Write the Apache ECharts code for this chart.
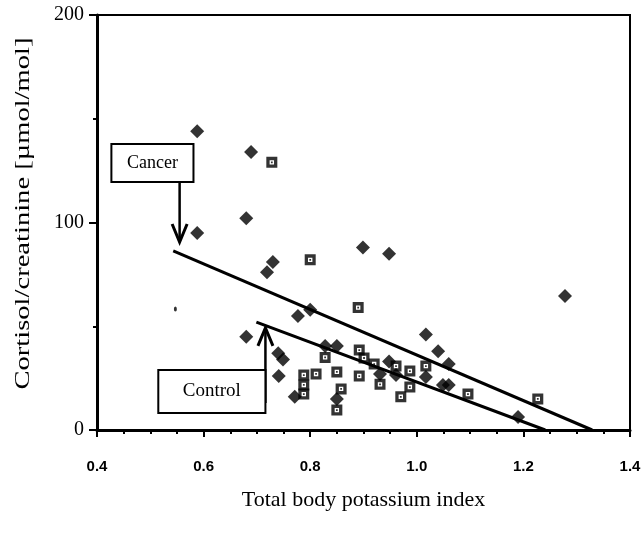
<!DOCTYPE html>
<html>
<head>
<meta charset="utf-8">
<script src="https://cdn.jsdelivr.net/npm/echarts@6/dist/echarts.min.js"></script>
<style>
html,body{margin:0;padding:0;background:#fff;}
#chart{width:642px;height:534px;}
</style>
</head>
<body>
<div id="chart"></div>
<script>
// ---- Data ----
var cancerX = [0.588,0.689,0.680,0.588,0.899,0.948,0.730,0.719,0.800,0.777,0.680,0.740,0.749,0.741,0.771,0.828,0.850,0.850,0.931,0.948,0.961,1.017,1.040,1.060,1.017,1.049,1.060,1.190,1.278];
var cancerY = [144,134,102,95,88,85,81,76,58,55,45,37,34,26,16,40.5,40.5,15,27,33,26.5,46,38,31.8,25.5,21.7,21.7,6.3,64.6];
var controlX = [0.728,0.800,0.890,0.788,0.788,0.788,0.811,0.828,0.850,0.858,0.850,0.892,0.901,0.920,0.892,0.931,0.961,0.987,0.987,0.970,1.017,1.096,1.227];
var controlY = [129,82,59,26.5,21.7,17.3,27,35,28,19.8,9.6,38.5,34.7,31.8,26,22,30.8,28.4,20.7,16,30.8,17.3,15];
var strayX = [0.547];
var strayY = [58.3];
// regression line end points
var cancerLineX = [0.543,1.329];
var cancerLineY = [86.3,0];
var controlLineX = [0.699,1.241];
var controlLineY = [52,0];
// axes
var xTicks = [0.4,0.6,0.8,1.0,1.2,1.4];
var yTicks = [0,100,200];
var xTitle = 'Total body potassium index';
var yTitle = 'Cortisol/creatinine [\u00b5mol/mol]';
// annotation labels (data coordinates)
var cancerBox = [0.427,137.8,0.581,119.5];
var cancerArrow = [0.555,119.5,90.6];
var controlBox = [0.515,28.9,0.716,8.2];
var controlArrow = [0.716,13,49.2];

function zip(a,b){return a.map(function(v,i){return [v,b[i]];});}

var squareSym = 'path://M0,0H10V10H0Z M3,3V7H7V3Z M4.2,4.2H5.8V5.8H4.2Z';

var chart = echarts.init(document.getElementById('chart'), null, {renderer:'canvas'});
var serif = '"Liberation Serif","Times New Roman",serif';
var sans = '"Liberation Sans",Arial,sans-serif';

chart.setOption({
  animation:false,
  backgroundColor:'#fff',
  grid:{left:97,right:12,top:15,bottom:104,containLabel:false,outerBoundsMode:'none',show:true,borderColor:'#000',borderWidth:2,backgroundColor:'transparent'},
  xAxis:{
    type:'value',min:xTicks[0],max:xTicks[xTicks.length-1],interval:0.2,
    name:xTitle,nameLocation:'middle',nameGap:59,
    nameTextStyle:{fontFamily:serif,fontSize:22,color:'#000'},
    axisLine:{show:true,onZero:false,lineStyle:{color:'#000',width:3}},
    axisTick:{show:true,inside:false,length:7,lineStyle:{color:'#000',width:2}},
    minorTick:{show:true,splitNumber:4,length:4,lineStyle:{color:'#000',width:2}},
    splitLine:{show:false},
    axisLabel:{margin:29,fontFamily:sans,fontWeight:'bold',fontSize:15,color:'#000',
      formatter:function(v){return v.toFixed(1);}}
  },
  yAxis:{
    type:'value',min:yTicks[0],max:yTicks[yTicks.length-1],interval:100,
    axisLine:{show:true,onZero:false,lineStyle:{color:'#000',width:3}},
    axisTick:{show:true,inside:false,length:8,lineStyle:{color:'#000',width:2}},
    minorTick:{show:true,splitNumber:2,length:4,lineStyle:{color:'#000',width:2}},
    splitLine:{show:false},
    axisLabel:{margin:13,fontFamily:serif,fontSize:20,color:'#000'}
  },
  series:[
    {type:'line',data:zip(cancerLineX,cancerLineY),symbol:'none',lineStyle:{color:'#000',width:3},z:2},
    {type:'line',data:zip(controlLineX,controlLineY),symbol:'none',lineStyle:{color:'#000',width:3},z:2},
    {type:'scatter',name:'Cancer',data:zip(cancerX,cancerY),symbol:'diamond',symbolSize:[14,14],itemStyle:{color:'#000'},z:3},
    {type:'scatter',name:'Control',data:zip(controlX,controlY),symbol:squareSym,symbolSize:[11,11],itemStyle:{color:'#000'},z:4},
    {type:'scatter',data:zip(strayX,strayY),symbol:'circle',symbolSize:[3,5],itemStyle:{color:'#000'},z:3}
  ]
});

function px(x,y){return chart.convertToPixel({gridIndex:0},[x,y]);}
function arrowGraphics(x,y0,y1,up){
  var a=px(x,y0), b=px(x,y1);
  var tipY=b[1], dir = up?1:-1;
  return [
    {type:'line',shape:{x1:a[0],y1:a[1],x2:b[0],y2:b[1]},style:{stroke:'#000',lineWidth:2.5},z:10},
    {type:'polyline',shape:{points:[[b[0]-7.5,tipY+dir*18],[b[0],tipY],[b[0]+7.5,tipY+dir*18]]},style:{stroke:'#000',lineWidth:3,fill:null},z:10}
  ];
}
function boxGraphics(box,text,fs){
  var p1=px(box[0],box[1]), p2=px(box[2],box[3]);
  return [
    {type:'rect',shape:{x:p1[0],y:p1[1],width:p2[0]-p1[0],height:p2[1]-p1[1]},style:{fill:'#fff',stroke:'#000',lineWidth:2},z:11},
    {type:'text',x:(p1[0]+p2[0])/2,y:(p1[1]+p2[1])/2,style:{text:text,fontFamily:serif,fontSize:fs,fill:'#000',align:'center',verticalAlign:'middle'},z:12}
  ];
}
var g = [];
g = g.concat(arrowGraphics(cancerArrow[0],cancerArrow[1],cancerArrow[2],false));
g = g.concat(boxGraphics(cancerBox,'Cancer',18));
g = g.concat(arrowGraphics(controlArrow[0],controlArrow[1],controlArrow[2],true));
g = g.concat(boxGraphics(controlBox,'Control',19));
// y-axis title, stretched along its length like the scanned original
var yMid = (px(0.4,0)[1] + px(0.4,200)[1]) / 2 - 9;
g.push({type:'text',x:23,y:yMid,rotation:Math.PI/2,scaleX:1.36,scaleY:1,
  style:{text:yTitle,fontFamily:serif,fontSize:21,fill:'#000',align:'center',verticalAlign:'middle'},z:12});
chart.setOption({graphic:g});
</script>
</body>
</html>
